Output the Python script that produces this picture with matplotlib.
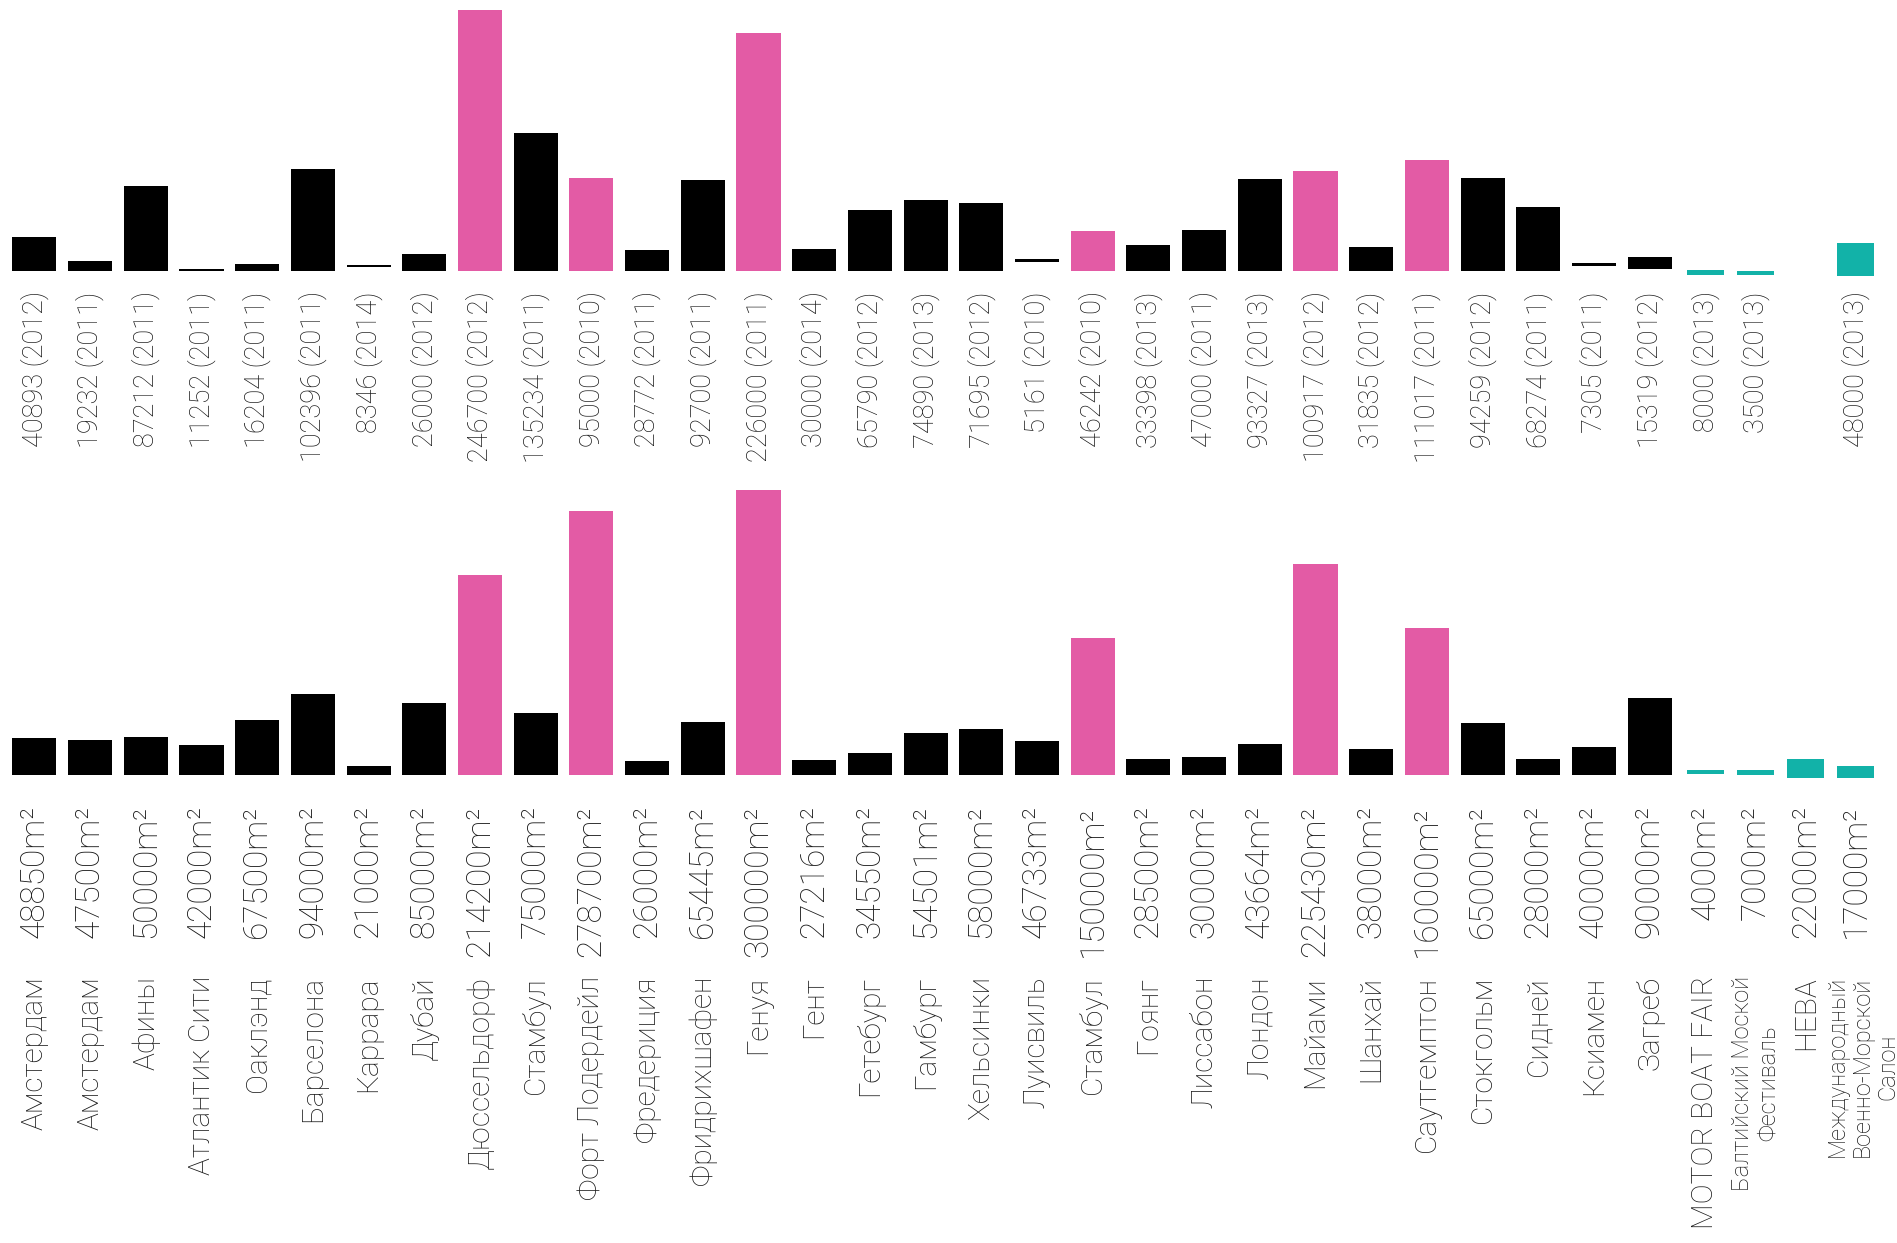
"""Boat show stats: two bar rows (visitors / area) with rotated labels."""
import matplotlib

matplotlib.use("Agg")
import matplotlib.pyplot as plt
import matplotlib.transforms as mtransforms
import numpy as np

C_BASE = "#000000"
C_PINK = "#e35ba5"
C_TEAL = "#12b2a8"
C_TEXT = "#1a1a1a"

plt.rcParams["font.family"] = ["Roboto", "DejaVu Sans"]
plt.rcParams["font.weight"] = "light"

# slot kind: b = black, p = pink, t = teal
kinds = list("bbbbbbbbpbpbbpbbbbbpbbbpbpbbbbtttt")

cities = [
    "Амстердам", "Амстердам", "Афины", "Атлантик Сити", "Оаклэнд", "Барселона",
    "Каррара", "Дубай", "Дюссельдорф", "Стамбул", "Форт Лодердейл", "Фредериция",
    "Фридрихшафен", "Генуя", "Гент", "Гетебург", "Гамбург", "Хельсинки",
    "Луисвиль", "Стамбул", "Гоянг", "Лиссабон", "Лондон", "Майами", "Шанхай",
    "Саутгемптон", "Стокгольм", "Сидней", "Ксиамен", "Загреб",
    "MOTOR BOAT FAIR", "Балтийский Моской\nФестиваль", "НЕВА",
    "Международный\nВоенно-Морской\nСалон",
]
small_city = [31, 33]

# top row: visitors (year)
top_labels = [
    "40893 (2012)", "19232 (2011)", "87212 (2011)", "11252 (2011)",
    "16204 (2011)", "102396 (2011)", "8346 (2014)", "26000 (2012)",
    "246700 (2012)", "135234 (2011)", "95000 (2010)", "28772 (2011)",
    "92700 (2011)", "226000 (2011)", "30000 (2014)", "65790 (2012)",
    "74890 (2013)", "71695 (2012)", "5161 (2010)", "46242 (2010)",
    "33398 (2013)", "47000 (2011)", "93327 (2013)", "100917 (2012)",
    "31835 (2012)", "111017 (2011)", "94259 (2012)", "68274 (2011)",
    "7305 (2011)", "15319 (2012)", "8000 (2013)", "3500 (2013)", None,
    "48000 (2013)",
]
# bar extents as drawn in the picture (bottom, height)
top_h = [100, 28, 253, 4, 19, 304, 7, 51, 782, 412, 279, 61,
         272, 713, 65, 183, 213, 203, 9, 118, 76, 121, 274, 299,
         70, 332, 277, 191, 7, 36, 16, 12, 0, 98]
top_bottom = [0, 0, 0, 0, 0, 0, 10, 0, 0, 0, 0, 0,
              0, 0, 0, 0, 0, 0, 25, 0, 0, 0, 0, 0,
              0, 0, 0, 0, 15, 4, -14, -14, 0, -15]

# bottom row: exhibition area
area_labels = [
    "48850", "47500", "50000", "42000", "67500", "94000", "21000", "85000",
    "214200", "75000", "278700", "26000", "65445", "300000", "27216",
    "34550", "54501", "58000", "46733", "150000", "28500", "30000", "43664",
    "225430", "38000", "160000", "65000", "28000", "40000", "90000",
    "4000", "7000", "22000", "17000",
]
area_h = [110, 105, 113, 89, 165, 243, 27, 217, 601, 187, 793, 41,
          158, 856, 45, 67, 126, 137, 103, 410, 49, 54, 94, 634,
          77, 440, 157, 47, 83, 231, 12, 15, 55, 34]
area_bottom = [0] * 30 + [2, -1, -8, -8]

W, H = 1897, 1243
fig = plt.figure(figsize=(W / 100, H / 100), dpi=100)

n = len(kinds)
x = np.arange(n, dtype=float)
x[30:] = 30 + 0.9 * np.arange(4)
colors = [{"b": C_BASE, "p": C_PINK, "t": C_TEAL}[k] for k in kinds]
widths = [0.66 if k == "t" else 0.79 for k in kinds]
xlim = (-34.4 / 55.7, (W - 34.4) / 55.7)


def make_axes(top_px, bottom_px, ylim):
    ax = fig.add_axes([0, 1 - bottom_px / H, 1, (bottom_px - top_px) / H])
    ax.set_xlim(*xlim)
    ax.set_ylim(*ylim)
    for s in ax.spines.values():
        s.set_visible(False)
    ax.set_yticks([])
    ax.tick_params(axis="x", length=0, colors=C_TEXT)
    return ax


ax1 = make_axes(0, 277.4, (-20, 812))
ax1.bar(x, top_h, bottom=top_bottom, width=widths, color=colors, linewidth=0)
idx = [i for i, t in enumerate(top_labels) if t]
ax1.set_xticks(x[idx])
ax1.set_xticklabels([top_labels[i] for i in idx], rotation=90, fontsize=19.5,
                    va="top", ha="center")
ax1.tick_params(axis="x", pad=10)

ax2 = make_axes(481.7, 781.7, (-20, 880))
ax2.bar(x, area_h, bottom=area_bottom, width=widths, color=colors, linewidth=0)
ax2.set_xticks(x)
ax2.set_xticklabels([a + "m²" for a in area_labels], rotation=90,
                    fontsize=24, va="top", ha="center")
ax2.tick_params(axis="x", pad=17)

trans = mtransforms.blended_transform_factory(ax2.transData, fig.transFigure)
for i, name in enumerate(cities):
    size = 17 if i in small_city else 21.5
    shift = 0.12 if i == 33 else 0
    ax2.text(x[i] + shift, 1 - 976 / H, name, transform=trans, rotation=90,
             ha="center", va="top", fontsize=size, color=C_TEXT,
             multialignment="center", linespacing=1.12)

fig.savefig("out.png", dpi=100, facecolor="white")
